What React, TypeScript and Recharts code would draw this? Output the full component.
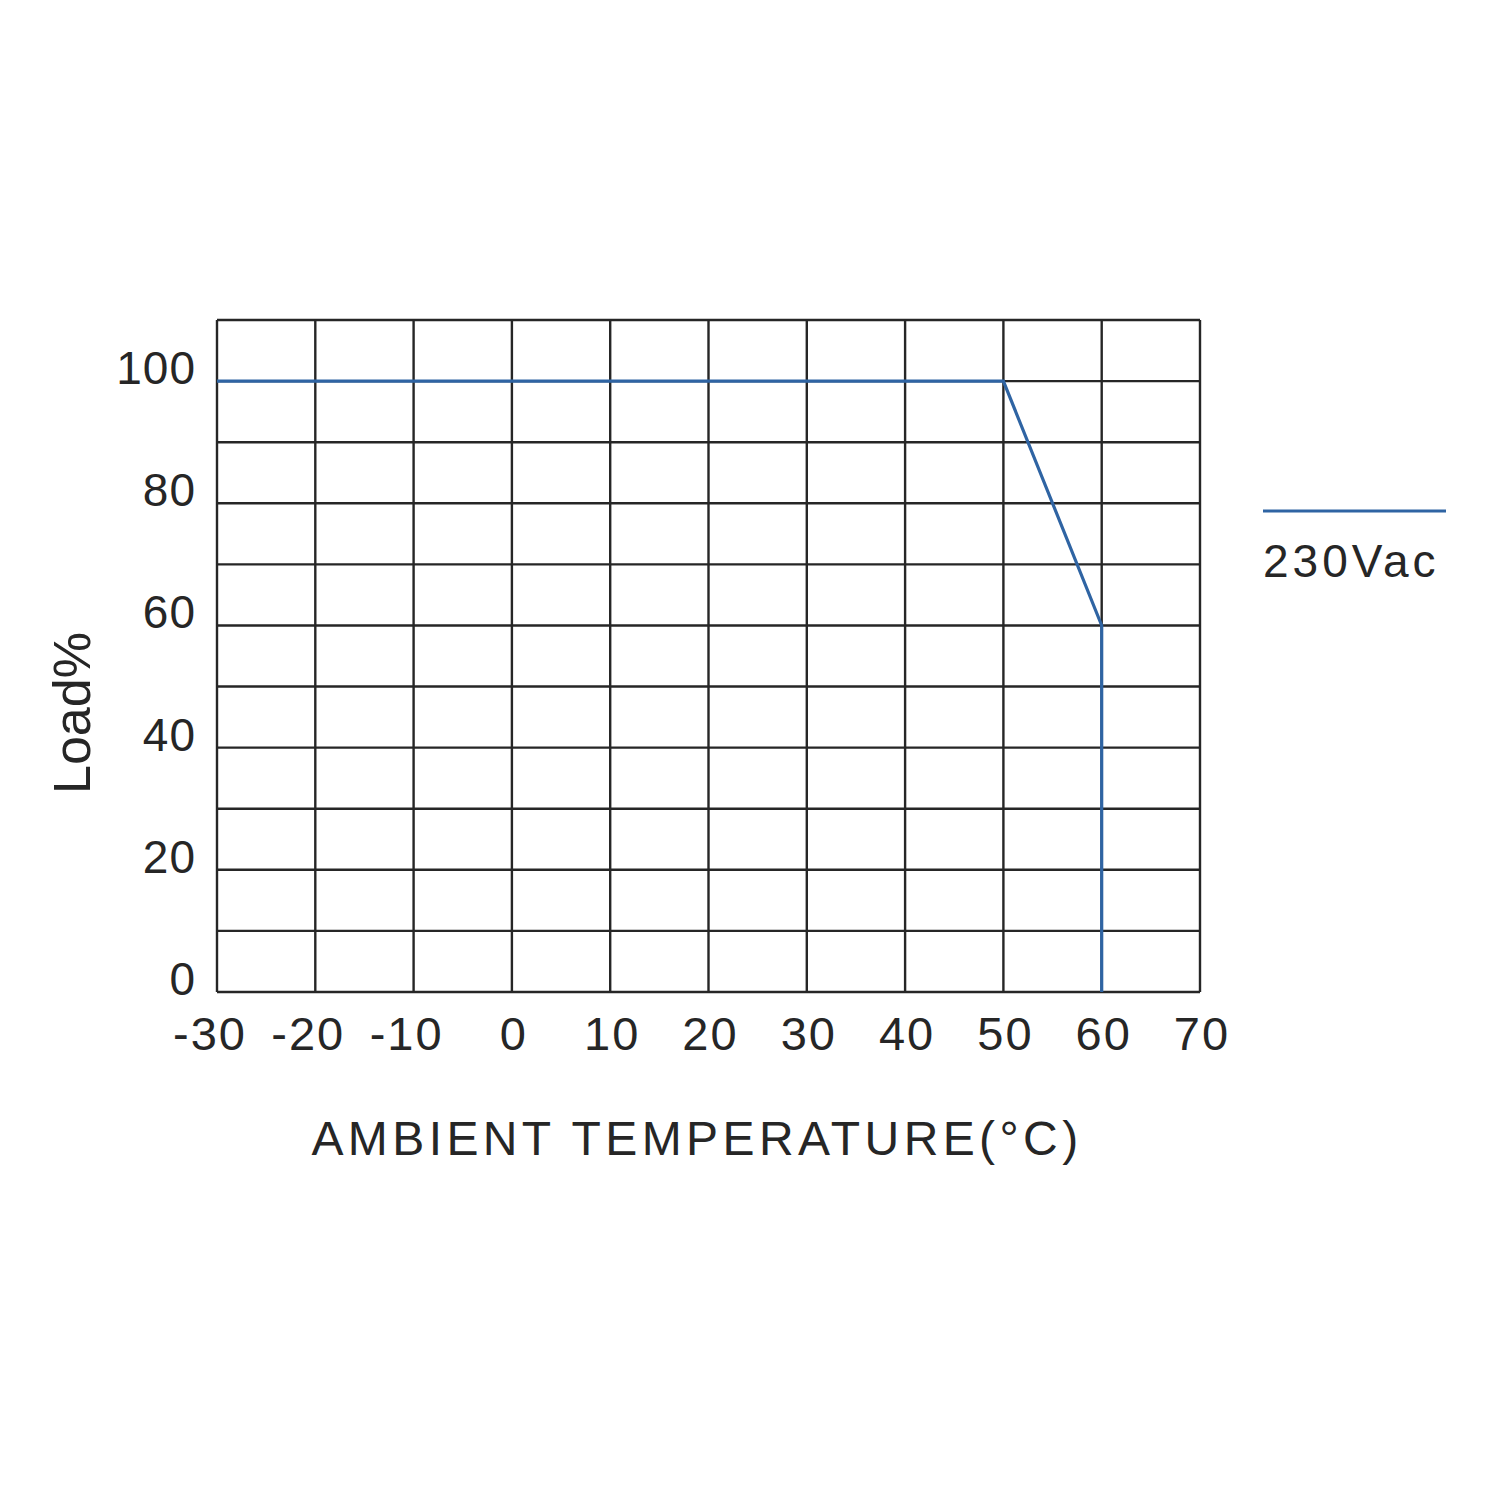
import React from 'react';
import { LineChart, Line, XAxis, YAxis, CartesianGrid } from 'recharts';

// derating curve
const temps = [-30, 50, 60, 60];
const loads = [100, 100, 60, 0];
const xTicks = [-30, -20, -10, 0, 10, 20, 30, 40, 50, 60, 70];
const yTicks = [0, 10, 20, 30, 40, 50, 60, 70, 80, 90, 100, 110];
const yLabelled = [0, 20, 40, 60, 80, 100];
const seriesName = '230Vac';

const data = temps.map((t, i) => ({ temp: t, load: loads[i] }));

const FONT = '"Liberation Sans", Arial, Helvetica, sans-serif';
const INK = '#262626';
const BLUE = '#2f64a3';

const YTick = (props: any) => {
  const { y, payload } = props;
  if (!yLabelled.includes(payload.value)) return <g />;
  return (
    <text x={196} y={y + 3} textAnchor="end" fontSize={46} fontFamily={FONT} fill={INK} letterSpacing={1}>
      {payload.value}
    </text>
  );
};

const XTick = (props: any) => {
  const { x, payload } = props;
  const shift = payload.value < 0 ? -7 : 2;
  return (
    <text x={x + shift} y={1050} textAnchor="middle" fontSize={47} fontFamily={FONT} fill={INK} letterSpacing={2}>
      {payload.value}
    </text>
  );
};

export default function App() {
  return (
    <div style={{ position: 'absolute', left: 0, top: 0, width: 1500, height: 1500, background: '#fff' }}>
      <LineChart
        width={1500}
        height={1500}
        data={data}
        margin={{ top: 320, right: 300, left: 0, bottom: 408 }}
      >
        <CartesianGrid stroke="#262626" strokeWidth={2.4} />
        <XAxis
          dataKey="temp"
          type="number"
          domain={[-30, 70]}
          ticks={xTicks}
          height={100}
          axisLine={false}
          tickLine={false}
          tick={XTick}
          interval={0}
        />
        <YAxis
          type="number"
          domain={[0, 110]}
          ticks={yTicks}
          width={217}
          axisLine={false}
          tickLine={false}
          tick={YTick}
          interval={0}
        />
        <Line
          type="linear"
          dataKey="load"
          name={seriesName}
          stroke={BLUE}
          strokeWidth={3.2}
          dot={false}
          isAnimationActive={false}
        />
        {/* legend */}
        <line x1={1263} y1={511} x2={1446} y2={511} stroke={BLUE} strokeWidth={3.2} />
        <text x={1263} y={577} fontSize={46} fontFamily={FONT} fill={INK} letterSpacing={4}>
          {seriesName}
        </text>
        <text
          x={697}
          y={1155}
          textAnchor="middle"
          fontSize={48}
          fontFamily={FONT}
          fill={INK}
          letterSpacing={4.4}
        >
          AMBIENT TEMPERATURE(°C)
        </text>
        <text
          x={90}
          y={713}
          transform="rotate(-90 90 713)"
          textAnchor="middle"
          fontSize={52}
          fontFamily={FONT}
          fill={INK}
        >
          Load%
        </text>
      </LineChart>
    </div>
  );
}
